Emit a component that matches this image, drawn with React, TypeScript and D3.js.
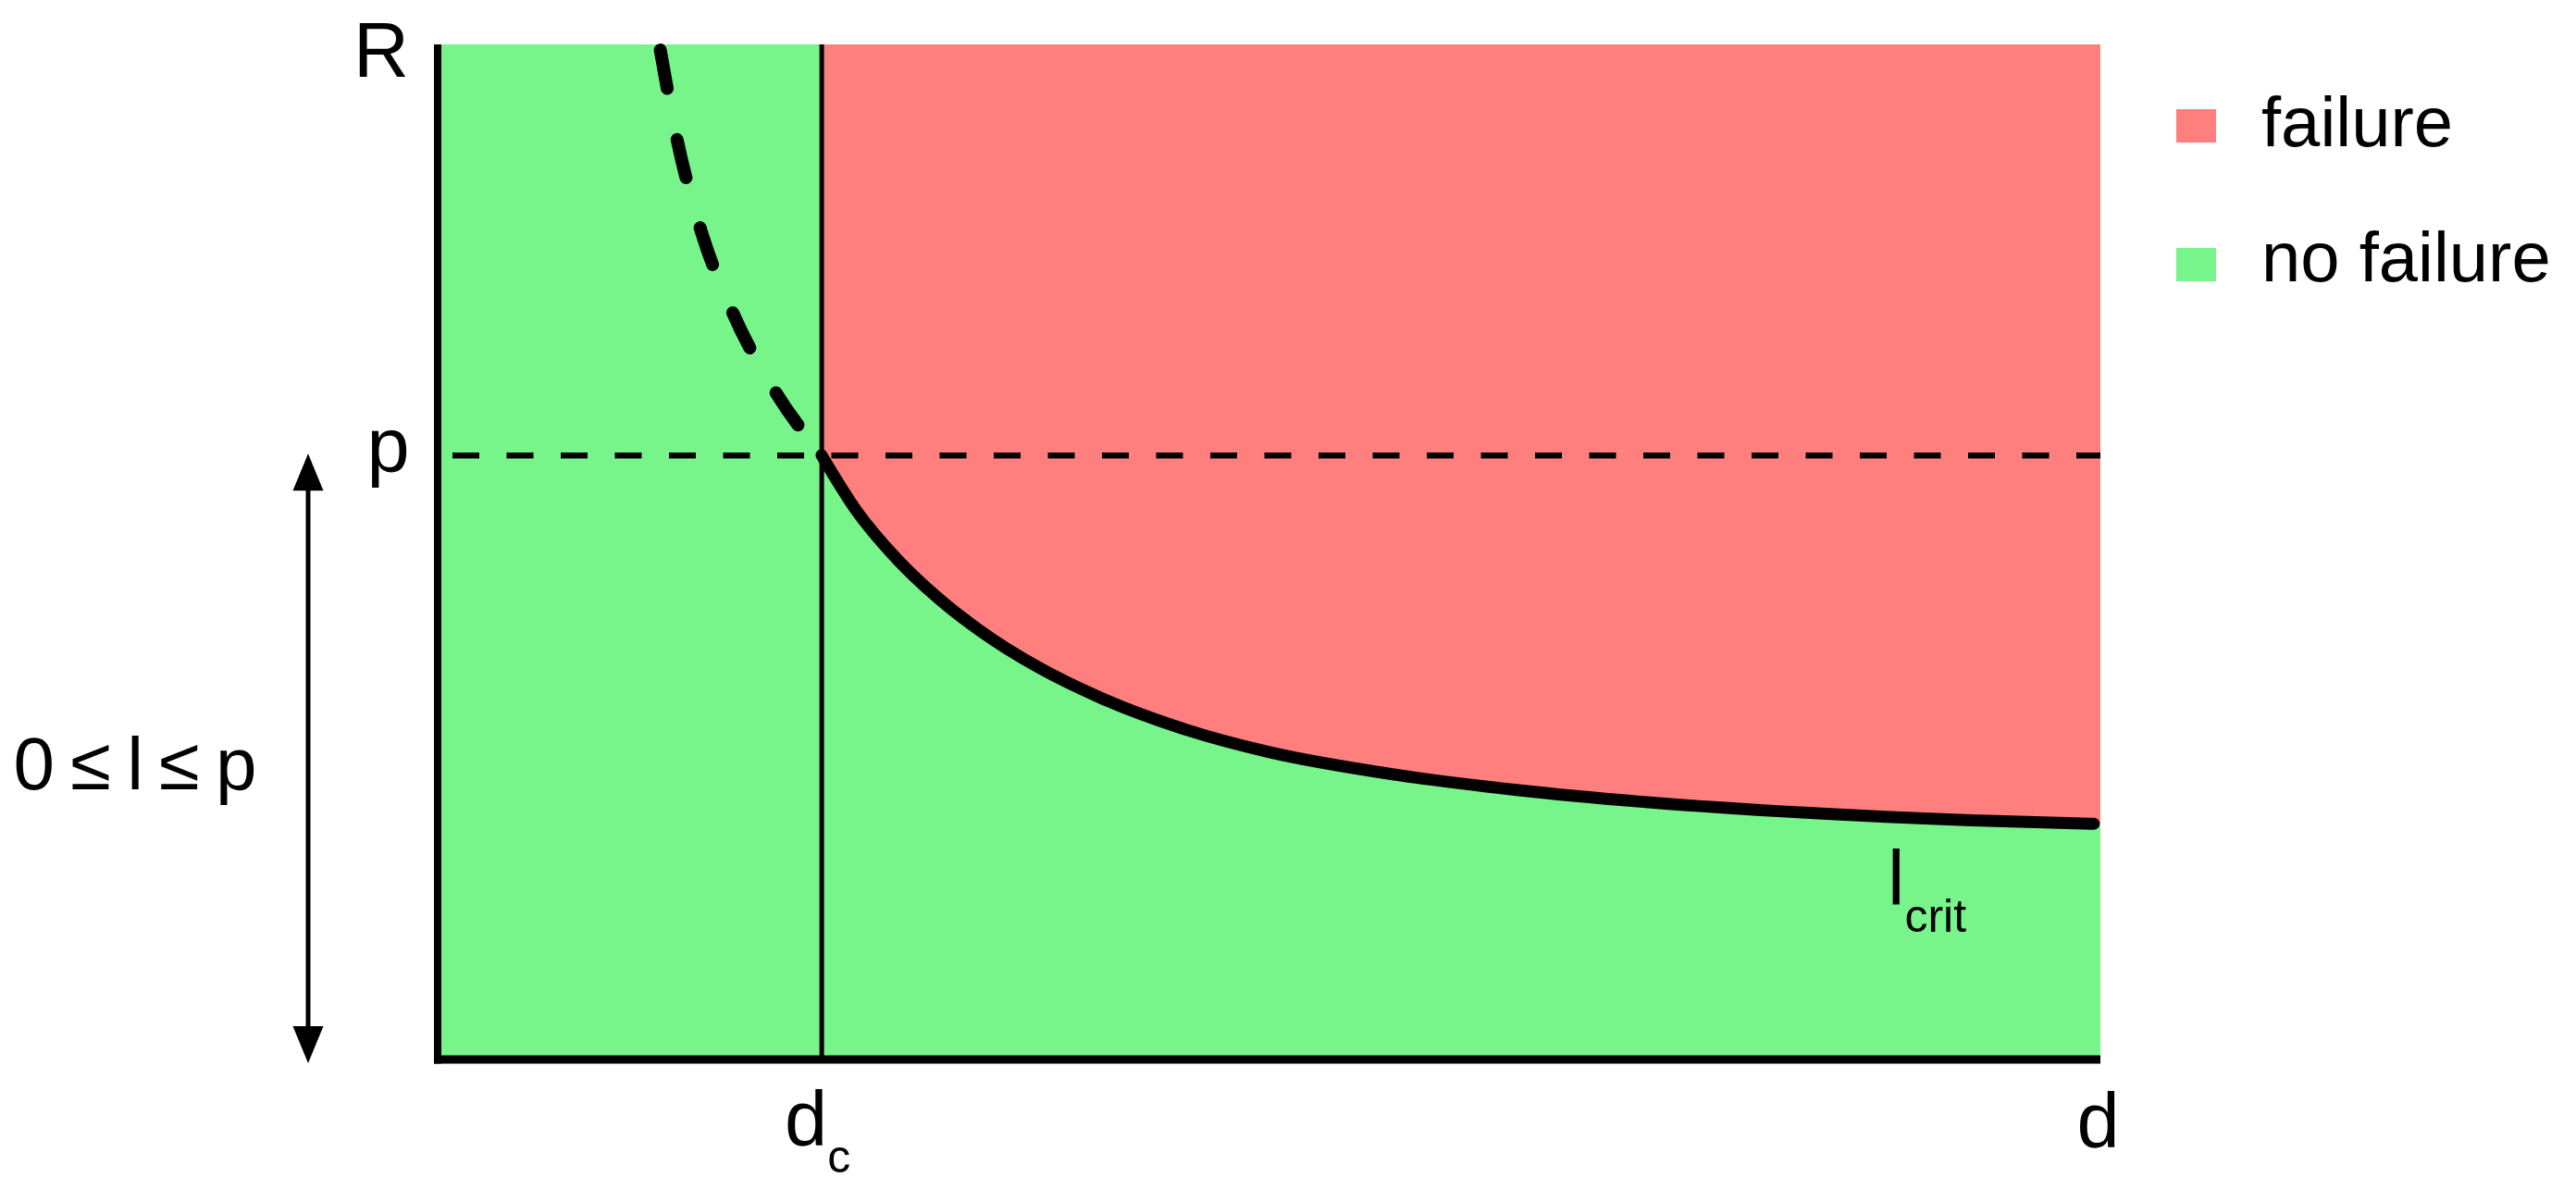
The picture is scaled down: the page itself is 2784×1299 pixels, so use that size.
import React from "react";
import * as d3 from "d3";

// ---- data (conceptual units: d and R on 0..100 axes) ----
const dMax = 100;
const rMax = 100;
const dc = 23.1;
const p = 59.5;
const lcritD = [13.39, 14.39, 15.8, 17.75, 20.37, 23.09, 25.13, 27.6, 30.11, 32.59, 36.06, 40.04, 45.02, 49.97, 57.43, 64.89, 72.34, 82.25, 92.21, 99.6];
const lcritR = [99.45, 90.7, 81.86, 73.56, 65.63, 59.53, 54.2, 49.34, 45.44, 42.28, 38.7, 35.51, 32.49, 30.3, 28.1, 26.55, 25.4, 24.31, 23.57, 23.22];
const legendLabels = ["failure", "no failure"];
const legendColors = ["#FF7F7F", "#77F58B"];

const W = 2784;
const H = 1299;
const FONT = "'Liberation Sans', Arial, Helvetica, sans-serif";

export default function App() {
  const x = d3.scaleLinear().domain([0, dMax]).range([473, 2270]);
  const y = d3.scaleLinear().domain([0, rMax]).range([1145, 48]);

  const pts = lcritD.map((d, i) => ({ d, r: lcritR[i] }));
  const dashedPts = pts.filter((q) => q.d <= dc + 0.01);
  const solidPts = pts.filter((q) => q.d >= dc - 0.01);
  const areaPts = [...solidPts, { d: dMax, r: solidPts[solidPts.length - 1].r - 0.03 }];

  const line = d3
    .line<{ d: number; r: number }>()
    .x((q) => x(q.d))
    .y((q) => y(q.r))
    .curve(d3.curveMonotoneX);

  const area = d3
    .area<{ d: number; r: number }>()
    .x((q) => x(q.d))
    .y0(y(rMax))
    .y1((q) => y(q.r))
    .curve(d3.curveMonotoneX);

  const arrowX = 333;
  const yTop = y(p);
  const yBot = y(0);

  return (
    <svg
      width={W}
      height={H}
      style={{ position: "absolute", left: 0, top: 0, display: "block", background: "#fff" }}
      fontFamily={FONT}
    >
      {/* no failure background */}
      <rect x={x(0)} y={y(rMax)} width={x(dMax) - x(0)} height={y(0) - y(rMax)} fill={legendColors[1]} />
      {/* failure region */}
      <path d={area(areaPts) || ""} fill={legendColors[0]} />

      {/* p dashed line */}
      <line
        x1={x(0) + 16}
        x2={x(dMax)}
        y1={y(p)}
        y2={y(p)}
        stroke="#000"
        strokeWidth={6.5}
        strokeDasharray="29 29.5"
      />

      {/* dc vertical line */}
      <line x1={x(dc)} x2={x(dc)} y1={y(rMax)} y2={y(0)} stroke="#000" strokeWidth={5} />

      {/* dashed continuation of l_crit */}
      <path
        d={line(dashedPts) || ""}
        fill="none"
        stroke="#000"
        strokeWidth={14}
        strokeLinecap="round"
        strokeDasharray="42 56.5"
      />
      {/* l_crit */}
      <path d={line(solidPts) || ""} fill="none" stroke="#000" strokeWidth={13} strokeLinecap="round" />

      {/* axes */}
      <line x1={x(0)} x2={x(0)} y1={y(rMax)} y2={y(0) + 4.5} stroke="#000" strokeWidth={8} />
      <line x1={x(0) - 4} x2={x(dMax)} y1={y(0)} y2={y(0)} stroke="#000" strokeWidth={9} />

      {/* axis labels */}
      <text x={382} y={83} fontSize={83} fill="#000">R</text>
      <text x={396.5} y={y(p) + 18} fontSize={83} fill="#000">p</text>
      <text x={x(dc) - 40} y={1238} fontSize={83} fill="#000">
        d
        <tspan fontSize={50} dy={29}>c</tspan>
      </text>
      <text x={x(dMax) - 25.5} y={1240} fontSize={83} fill="#000">d</text>
      <text x={2040} y={978} fontSize={83} fill="#000">
        l
        <tspan fontSize={50} dy={29}>crit</tspan>
      </text>

      {/* range arrow */}
      <line x1={arrowX} x2={arrowX} y1={yTop + 30} y2={yBot - 30} stroke="#000" strokeWidth={5} />
      <polygon
        points={`${arrowX},${yTop - 2} ${arrowX - 16.5},${yTop + 38} ${arrowX + 16.5},${yTop + 38}`}
        fill="#000"
      />
      <polygon
        points={`${arrowX},${yBot + 4} ${arrowX - 16.5},${yBot - 36} ${arrowX + 16.5},${yBot - 36}`}
        fill="#000"
      />
      <text x={14.6} y={853} fontSize={80} fill="#000" textLength={263} lengthAdjust="spacing">
        0 ≤ l ≤ p
      </text>

      {/* legend */}
      {legendLabels.map((lab, i) => (
        <g key={lab}>
          <rect x={2352} y={118 + i * 150} width={43} height={36} fill={legendColors[i]} />
          <text x={2444} y={158 + i * 146} fontSize={76} fill="#000">
            {lab}
          </text>
        </g>
      ))}
    </svg>
  );
}
